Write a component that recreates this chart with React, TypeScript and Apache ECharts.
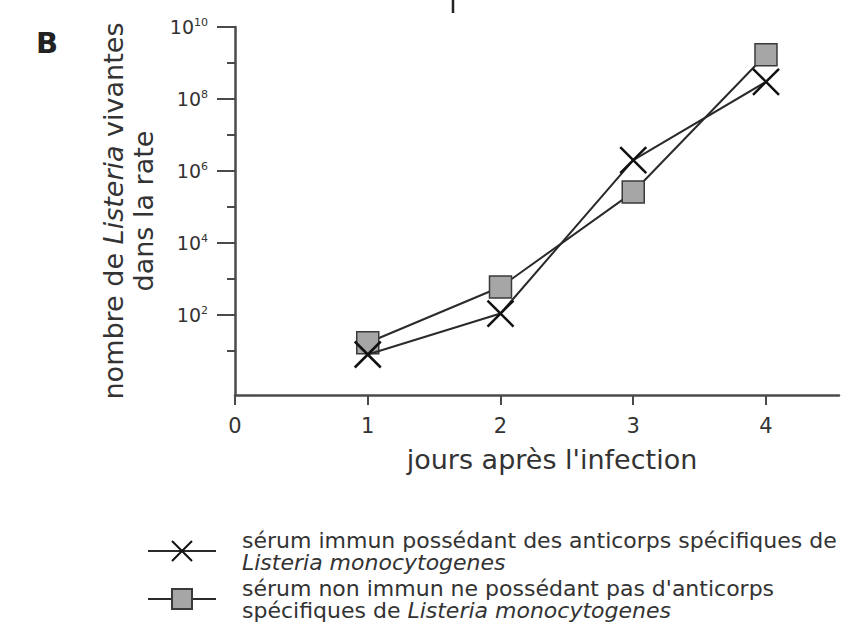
import React, { useEffect, useRef } from 'react';
import * as echarts from 'echarts';

const days = [1, 2, 3, 4];
const immunCounts = [8, 110, 2e6, 3e8];
const nonImmunCounts = [17, 600, 2.6e5, 1.7e9];
const xTickValues = [0, 1, 2, 3, 4];
const yMajorTicks = [1e2, 1e4, 1e6, 1e8, 1e10];
const yMinorTicks = [1e1, 1e3, 1e5, 1e7, 1e9];
const xTitle = "jours après l'infection";
const yTitleParts = ['nombre de ', 'Listeria', ' vivantes', 'dans la rate'];
const immunName = 'immun';
const nonImmunName = 'nonImmun';
const immunLegend = ['sérum immun possédant des anticorps spécifiques de', 'Listeria monocytogenes'];
const nonImmunLegend = ["sérum non immun ne possédant pas d'anticorps", 'spécifiques de ', 'Listeria monocytogenes'];
const panelLetter = 'B';

const FONT = 'DejaVu Sans';
const TEXT = '#333333';
const AXIS = '#4a4a4a';

export default function App() {
  const ref = useRef<HTMLDivElement>(null);
  useEffect(() => {
    if (!ref.current) return;
    const chart = echarts.init(ref.current, null, { renderer: 'svg' });
    const yMin = 0.6;
    const yMax = 1e10;
    const option: any = {
      animation: false,
      backgroundColor: '#ffffff',
      textStyle: { fontFamily: FONT, color: TEXT },
      grid: { left: 235, right: 8, top: 27, bottom: 227, outerBoundsMode: 'none' },
      xAxis: {
        type: 'value',
        min: 0,
        max: 4.55,
        axisLine: { onZero: false, lineStyle: { color: AXIS, width: 2.5 } },
        axisTick: { show: true, customValues: xTickValues, length: 10, lineStyle: { color: AXIS, width: 2 } },
        axisLabel: { customValues: xTickValues, fontSize: 21, color: TEXT, margin: 20, fontFamily: FONT },
        splitLine: { show: false },
        name: xTitle,
        nameLocation: 'middle',
        nameGap: 51,
        nameTextStyle: { fontSize: 27, color: TEXT, fontFamily: FONT, padding: [0, 0, 0, 30] },
      },
      yAxis: [
        {
          type: 'log',
          logBase: 10,
          min: yMin,
          max: yMax,
          position: 'left',
          axisLine: { show: true, lineStyle: { color: AXIS, width: 2.5 } },
          axisTick: { show: true, customValues: yMajorTicks, length: 18, lineStyle: { color: AXIS, width: 2 } },
          axisLabel: {
            customValues: yMajorTicks,
            margin: 27,
            align: 'right',
            formatter: (v: number) => `{b|10}{s|${Math.round(Math.log10(v))}}`,
            rich: {
              b: { fontSize: 19, color: TEXT, fontFamily: FONT },
              s: { fontSize: 11, color: TEXT, fontFamily: FONT, padding: [0, 0, 9, 0] },
            },
          },
          splitLine: { show: false },
          name: `{n|${yTitleParts[0]}}{i|${yTitleParts[1]}}{n|${yTitleParts[2]}}\n{n|${yTitleParts[3]}}`,
          nameLocation: 'middle',
          nameRotate: 90,
          nameGap: 61,
          nameTextStyle: {
            fontSize: 27,
            color: TEXT,
            fontFamily: FONT,
            lineHeight: 30,
            rich: {
              n: { fontSize: 27, color: TEXT, fontFamily: FONT, lineHeight: 30 },
              i: { fontSize: 27, color: TEXT, fontFamily: FONT, fontStyle: 'italic', lineHeight: 30 },
            },
          },
        },
        {
          type: 'log',
          logBase: 10,
          min: yMin,
          max: yMax,
          position: 'left',
          axisLine: { show: false },
          axisTick: { show: true, customValues: yMinorTicks, length: 8, lineStyle: { color: AXIS, width: 2 } },
          axisLabel: { show: false },
          splitLine: { show: false },
        },
      ],
      legend: {
        orient: 'vertical',
        left: 147,
        top: 529,
        height: 150,
        padding: 0,
        itemWidth: 68,
        itemHeight: 25,
        itemGap: 4,
        data: [immunName, nonImmunName],
        selectedMode: false,
        formatter: (name: string) =>
          name === immunName
            ? `{n|${immunLegend[0]}}\n{i|${immunLegend[1]}}`
            : `{n|${nonImmunLegend[0]}}\n{n|${nonImmunLegend[1]}}{i|${nonImmunLegend[2]}}`,
        textStyle: {
          padding: [0, 0, 0, 21],
          rich: {
            n: { fontSize: 22, color: TEXT, fontFamily: FONT, lineHeight: 22 },
            i: { fontSize: 22, color: TEXT, fontFamily: FONT, fontStyle: 'italic', lineHeight: 22 },
          },
        },
      },
      series: [
        {
          name: nonImmunName,
          type: 'line',
          data: days.map((d, i) => [d, nonImmunCounts[i]]),
          symbol: 'rect',
          symbolSize: 22,
          lineStyle: { color: '#2a2a2a', width: 2 },
          itemStyle: { color: '#a6a6a6', borderColor: '#3a3a3a', borderWidth: 1.5 },
          z: 2,
        },
        {
          name: immunName,
          type: 'line',
          data: days.map((d, i) => [d, immunCounts[i]]),
          symbol: 'path://M0,0L10,10M10,0L0,10',
          symbolSize: 26,
          lineStyle: { color: '#2a2a2a', width: 2 },
          itemStyle: { color: '#111111', borderColor: '#111111', borderWidth: 2.5 },
          z: 3,
        },
      ],
      graphic: [
        {
          type: 'text',
          left: 36,
          top: 28,
          style: { text: panelLetter, fontSize: 29, fontWeight: 'bold', fontFamily: FONT, fill: '#222222' },
        },
        {
          type: 'line',
          shape: { x1: 453, y1: 0, x2: 453, y2: 13 },
          style: { stroke: '#222222', lineWidth: 2.5 },
        },
      ],
    };
    chart.setOption(option);
    return () => chart.dispose();
  }, []);
  return <div ref={ref} style={{ position: 'fixed', left: 0, top: 0, width: 847, height: 622 }} />;
}
